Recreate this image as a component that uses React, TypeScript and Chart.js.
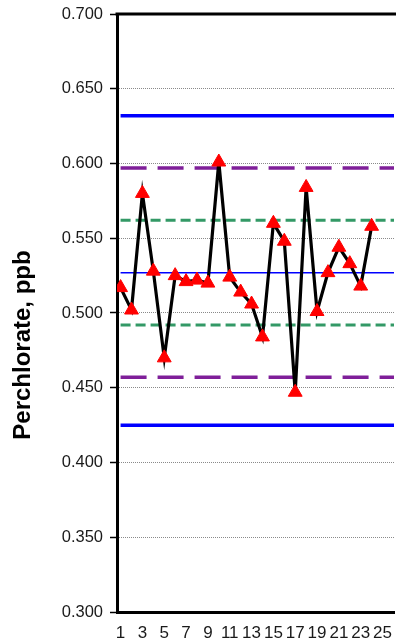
import React, { useEffect, useRef } from 'react';
import { Chart, registerables } from 'chart.js';

Chart.register(...registerables);

// ---- data ----
const samples = [1, 2, 3, 4, 5, 6, 7, 8, 9, 10, 11, 12, 13, 14, 15, 16, 17, 18, 19, 20, 21, 22, 23, 24];
const perchlorate = [
  0.517, 0.502, 0.580, 0.528, 0.470, 0.525, 0.521, 0.522, 0.520, 0.601, 0.524, 0.514,
  0.506, 0.484, 0.560, 0.548, 0.447, 0.584, 0.501, 0.527, 0.544, 0.533, 0.518, 0.558,
];
const xTickLabels = [1, 3, 5, 7, 9, 11, 13, 15, 17, 19, 21, 23, 25];
const yTickValues = [0.3, 0.35, 0.4, 0.45, 0.5, 0.55, 0.6, 0.65, 0.7];
const limitSpan = [1, 27];
const controlLimits = [0.632, 0.425];
const warningLimits = [0.597, 0.457];
const innerLimits = [0.562, 0.492];
const centerLine = [0.527];
const yTitle = 'Perchlorate, ppb';

const X_MIN = 0.672;
const X_MAX = 26.05;
const Y_MIN = 0.3;
const Y_MAX = 0.7;

const FONT = '"Liberation Sans", Arial, sans-serif';

const hline = (v: number) => limitSpan.map((x) => ({ x, y: v }));

const framePlugin = {
  id: 'frameAndTitle',
  afterDraw(chart: any) {
    const { ctx, chartArea } = chart;
    ctx.save();
    ctx.strokeStyle = '#000';
    ctx.lineWidth = 3;
    ctx.beginPath();
    ctx.moveTo(chartArea.left - 1.5, chartArea.top);
    ctx.lineTo(chartArea.right + 2, chartArea.top);
    ctx.stroke();
    ctx.restore();

    ctx.save();
    ctx.translate(30, 345);
    ctx.rotate(-Math.PI / 2);
    ctx.font = 'bold 24px ' + FONT;
    ctx.fillStyle = '#000';
    ctx.textAlign = 'center';
    ctx.textBaseline = 'alphabetic';
    ctx.fillText(yTitle, 0, 0);
    ctx.restore();
  },
};

export default function App() {
  const ref = useRef<HTMLCanvasElement | null>(null);

  useEffect(() => {
    document.body.style.margin = '0';
    const canvas = ref.current;
    if (!canvas) return;

    const limitDs = (values: number[], color: string, width: number, dash: number[]) =>
      values.map((v) => ({
        data: hline(v),
        borderColor: color,
        borderWidth: width,
        borderDash: dash,
        pointRadius: 0,
        fill: false,
        tension: 0,
        order: 2,
      }));

    const chart = new Chart(canvas, {
      type: 'line',
      data: {
        datasets: [
          {
            data: samples.map((s, i) => ({ x: s, y: perchlorate[i] })),
            borderColor: '#000',
            borderWidth: 3.2,
            pointStyle: 'triangle',
            pointRadius: 8,
            pointBackgroundColor: '#FF0000',
            pointBorderColor: '#FF0000',
            pointBorderWidth: 1,
            fill: false,
            tension: 0,
            order: 0,
          },
          ...limitDs(controlLimits, '#0000FF', 3.5, []),
          ...limitDs(centerLine, '#0000FF', 1.5, []),
          ...limitDs(warningLimits, '#7F1F99', 3.5, [26, 11]),
          ...limitDs(innerLimits, '#339966', 3, [10, 5]),
        ] as any,
      },
      options: {
        animation: false,
        responsive: false,
        layout: { padding: { top: 14, right: 0, bottom: 0, left: 0 } },
        plugins: {
          legend: { display: false },
          tooltip: { enabled: false },
          title: { display: false },
        },
        scales: {
          x: {
            type: 'linear',
            min: X_MIN,
            max: X_MAX,
            afterBuildTicks: (s: any) => {
              s.ticks = xTickLabels.map((v) => ({ value: v }));
            },
            afterFit: (s: any) => {
              s.height = 31;
              s.paddingLeft = 0;
              s.paddingRight = 0;
            },
            ticks: {
              autoSkip: false,
              maxRotation: 0,
              minRotation: 0,
              padding: 11,
              color: '#1a1a1a',
              font: { family: FONT, size: 17 },
              callback: (v: any) => String(v),
            },
            grid: { display: false, drawTicks: false },
            border: { color: '#000', width: 3 },
          },
          y: {
            type: 'linear',
            min: Y_MIN,
            max: Y_MAX,
            afterBuildTicks: (s: any) => {
              s.ticks = yTickValues.map((v) => ({ value: v }));
            },
            afterFit: (s: any) => {
              s.width = 117;
              s.paddingTop = 0;
              s.paddingBottom = 0;
            },
            ticks: {
              padding: 7,
              color: '#1a1a1a',
              font: { family: FONT, size: 16.5 },
              callback: (v: any) => Number(v).toFixed(3),
            },
            grid: {
              color: '#8a8a8a',
              lineWidth: 1,
              tickLength: 7,
              tickColor: '#000',
              tickWidth: 1.5,
            },
            border: { color: '#000', width: 3, dash: [1, 1] },
            title: { display: false },
          },
        },
      },
      plugins: [framePlugin],
    } as any);

    return () => chart.destroy();
  }, []);

  return (
    <canvas
      ref={ref}
      width={403}
      height={643}
      style={{ position: 'fixed', left: 0, top: 0, width: 403, height: 643 }}
    />
  );
}
